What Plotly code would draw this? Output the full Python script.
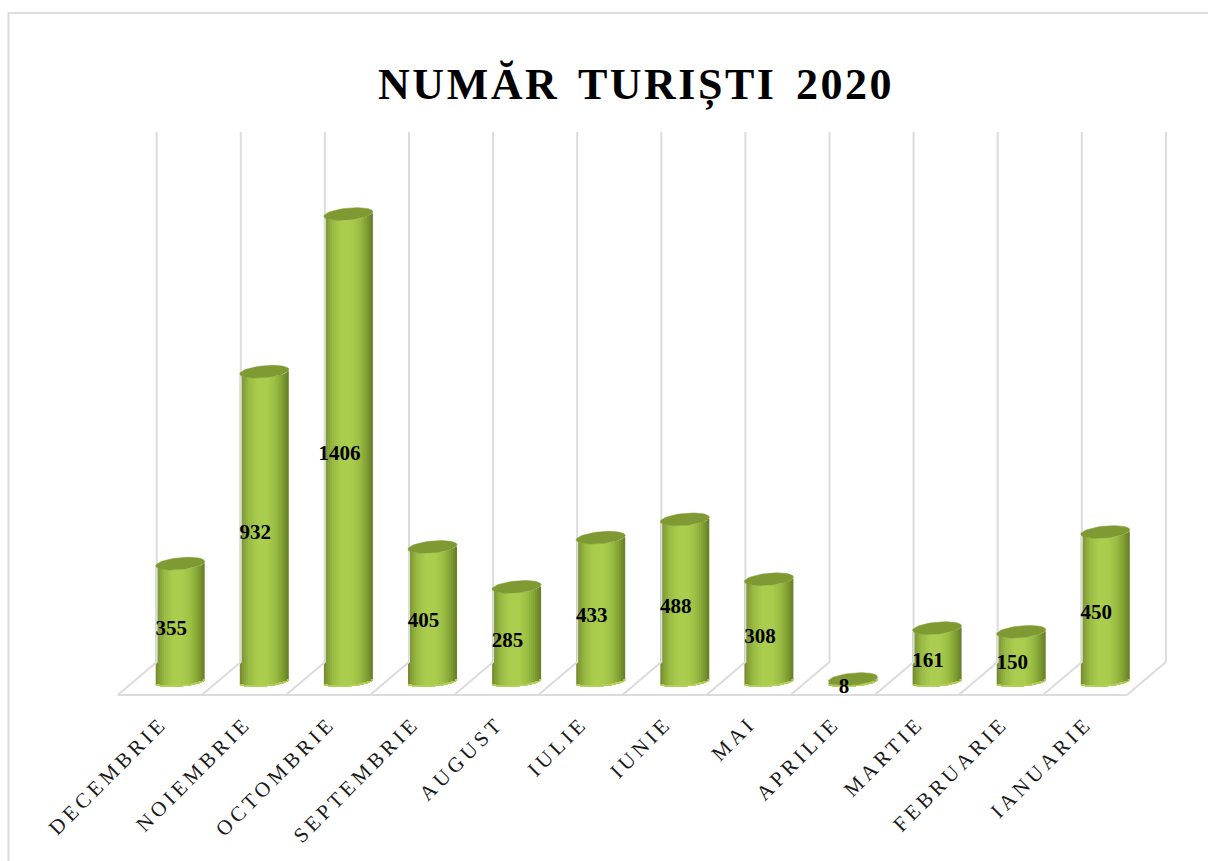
import numpy as np
import plotly.graph_objects as go

months = ["DECEMBRIE", "NOIEMBRIE", "OCTOMBRIE", "SEPTEMBRIE", "AUGUST", "IULIE",
          "IUNIE", "MAI", "APRILIE", "MARTIE", "FEBRUARIE", "IANUARIE"]
tourists = [355, 932, 1406, 405, 285, 433, 488, 308, 8, 161, 150, 450]
title_text = "NUMĂR TURIȘTI 2020"

W, H = 1208, 861
X0, DX = 180.2, 84.1          # pixel of first category, pixels per category
Y0, PX_PER_UNIT = 681.7, 0.3326
PLOT_BOTTOM = 700

GRID = "#dcdcdc"
CAP = "#7f9a33"
RIM = "#b4d05a"
# cross-section shading of the cylinder, left edge to right edge
SHADE_POS = [0.0, 0.05, 0.18, 0.36, 0.55, 0.72, 0.86, 0.95, 1.0]
SHADE_RGB = [(112, 134, 46), (128, 154, 52), (153, 186, 68), (170, 205, 78), (170, 205, 78),
             (156, 190, 68), (132, 162, 52), (112, 138, 44), (100, 124, 40)]

x_lo, x_hi = -X0 / DX, (W - X0) / DX
y_lo, y_hi = (Y0 - PLOT_BOTTOM) / PX_PER_UNIT, Y0 / PX_PER_UNIT
idx = np.arange(len(months))
vals = np.array(tourists, dtype=float)

HALF_W = 24.5 / DX
RY = 6.0 / PX_PER_UNIT
RY_BOTTOM = 4.6 / PX_PER_UNIT
TILT = 2.2 / PX_PER_UNIT
RIM_H = 1.0 / PX_PER_UNIT

fig = go.Figure()

# back wall lines and floor
BACK_OFF, FLOOR_OFF = -23.5 / DX, -62.5 / DX
WALL_TOP = (Y0 - 132) / PX_PER_UNIT
FLOOR_BACK = (Y0 - 662) / PX_PER_UNIT
FLOOR_FRONT = (Y0 - 695) / PX_PER_UNIT
gx, gy = [], []
for k in range(len(months) + 1):
    gx += [k + BACK_OFF, k + BACK_OFF, k + FLOOR_OFF, None]
    gy += [WALL_TOP, FLOOR_BACK, FLOOR_FRONT, None]
gx += [FLOOR_OFF, len(months) + FLOOR_OFF]
gy += [FLOOR_FRONT, FLOOR_FRONT]
fig.add_trace(go.Scatter(x=gx, y=gy, mode="lines", line=dict(color=GRID, width=2),
                         hoverinfo="skip", showlegend=False))

# cylinder bodies: one bar trace per shading band
N = 24
step = 2 * HALF_W / N
for k in range(N):
    t = (k + 0.5) / N
    u = 2 * t - 1
    r, g, b = [np.interp(t, SHADE_POS, [c[j] for c in SHADE_RGB]) for j in range(3)]
    bottom = TILT * u - RY_BOTTOM * np.sqrt(max(1 - u * u, 0))
    top = vals + TILT * u - RY * np.sqrt(max(1 - u * u, 0))
    left = -HALF_W + k * step
    width = step * 1.5 if k < N - 1 else step
    fig.add_trace(go.Bar(x=idx, y=top - bottom, base=bottom,
                         width=width, offset=left,
                         marker=dict(color=f"rgb({r:.0f},{g:.0f},{b:.0f})", line=dict(width=0)),
                         hoverinfo="skip", showlegend=False))
    # pale rim along the lower curve
    fig.add_trace(go.Bar(x=idx, y=np.minimum(np.full(len(idx), RIM_H), top - bottom), base=bottom,
                         width=width, offset=left,
                         marker=dict(color=RIM, line=dict(width=0)),
                         hoverinfo="skip", showlegend=False))

# elliptical caps
theta = np.linspace(0, 2 * np.pi, 61)
for i, v in zip(idx, vals):
    u = np.cos(theta)
    fig.add_trace(go.Scatter(x=i + HALF_W * u, y=v + TILT * u + RY * np.sin(theta),
                             mode="lines", fill="toself", fillcolor=CAP,
                             line=dict(color=CAP, width=0.5),
                             hoverinfo="skip", showlegend=False))

# value labels
fig.add_trace(go.Scatter(x=idx - 9 / DX, y=vals / 2 - 7 / PX_PER_UNIT, mode="text",
                         text=[str(v) for v in tourists],
                         textposition="middle center",
                         textfont=dict(family="Liberation Serif", size=21, color="#000000", weight="bold"),
                         hoverinfo="skip", showlegend=False))

fig.update_layout(
    width=W, height=H, autosize=False,
    margin=dict(l=0, r=0, t=0, b=H - PLOT_BOTTOM, pad=0),
    paper_bgcolor="white", plot_bgcolor="white",
    barmode="overlay", showlegend=False,
    title=dict(text=title_text, x=636 / W, xanchor="center", y=1 - 84 / H, yanchor="middle",
               font=dict(family="Liberation Serif", size=44, color="#000000", weight="bold")),
    xaxis=dict(range=[x_lo, x_hi], tickmode="array", tickvals=list(idx), ticktext=months,
               tickangle=-45, showgrid=False, zeroline=False, showline=False, ticks="",
               ticklabelstandoff=6, ticklabelshift=-19,
               tickfont=dict(family="Liberation Serif", size=21, color="#1a1a1a")),
    yaxis=dict(range=[y_lo, y_hi], visible=False),
    shapes=[dict(type="rect", xref="paper", yref="paper", x0=8.5 / W, x1=1.02,
                 y0=-0.5, y1=(PLOT_BOTTOM - 13) / PLOT_BOTTOM,
                 line=dict(color=GRID, width=2), fillcolor="rgba(0,0,0,0)", layer="below")],
)

post = """
var gd = document.getElementById('{plot_id}');
document.body.style.margin = '0';
function spacing() {
  gd.querySelectorAll('.xtick text').forEach(function (t) { t.style.letterSpacing = '4px'; });
  gd.querySelectorAll('.gtitle').forEach(function (t) { t.style.letterSpacing = '2.5px'; t.style.wordSpacing = '6px'; });
}
spacing();
gd.on('plotly_afterplot', spacing);
setTimeout(spacing, 50);
"""
fig.write_html("out.html", post_script=post, config=dict(displayModeBar=False))
